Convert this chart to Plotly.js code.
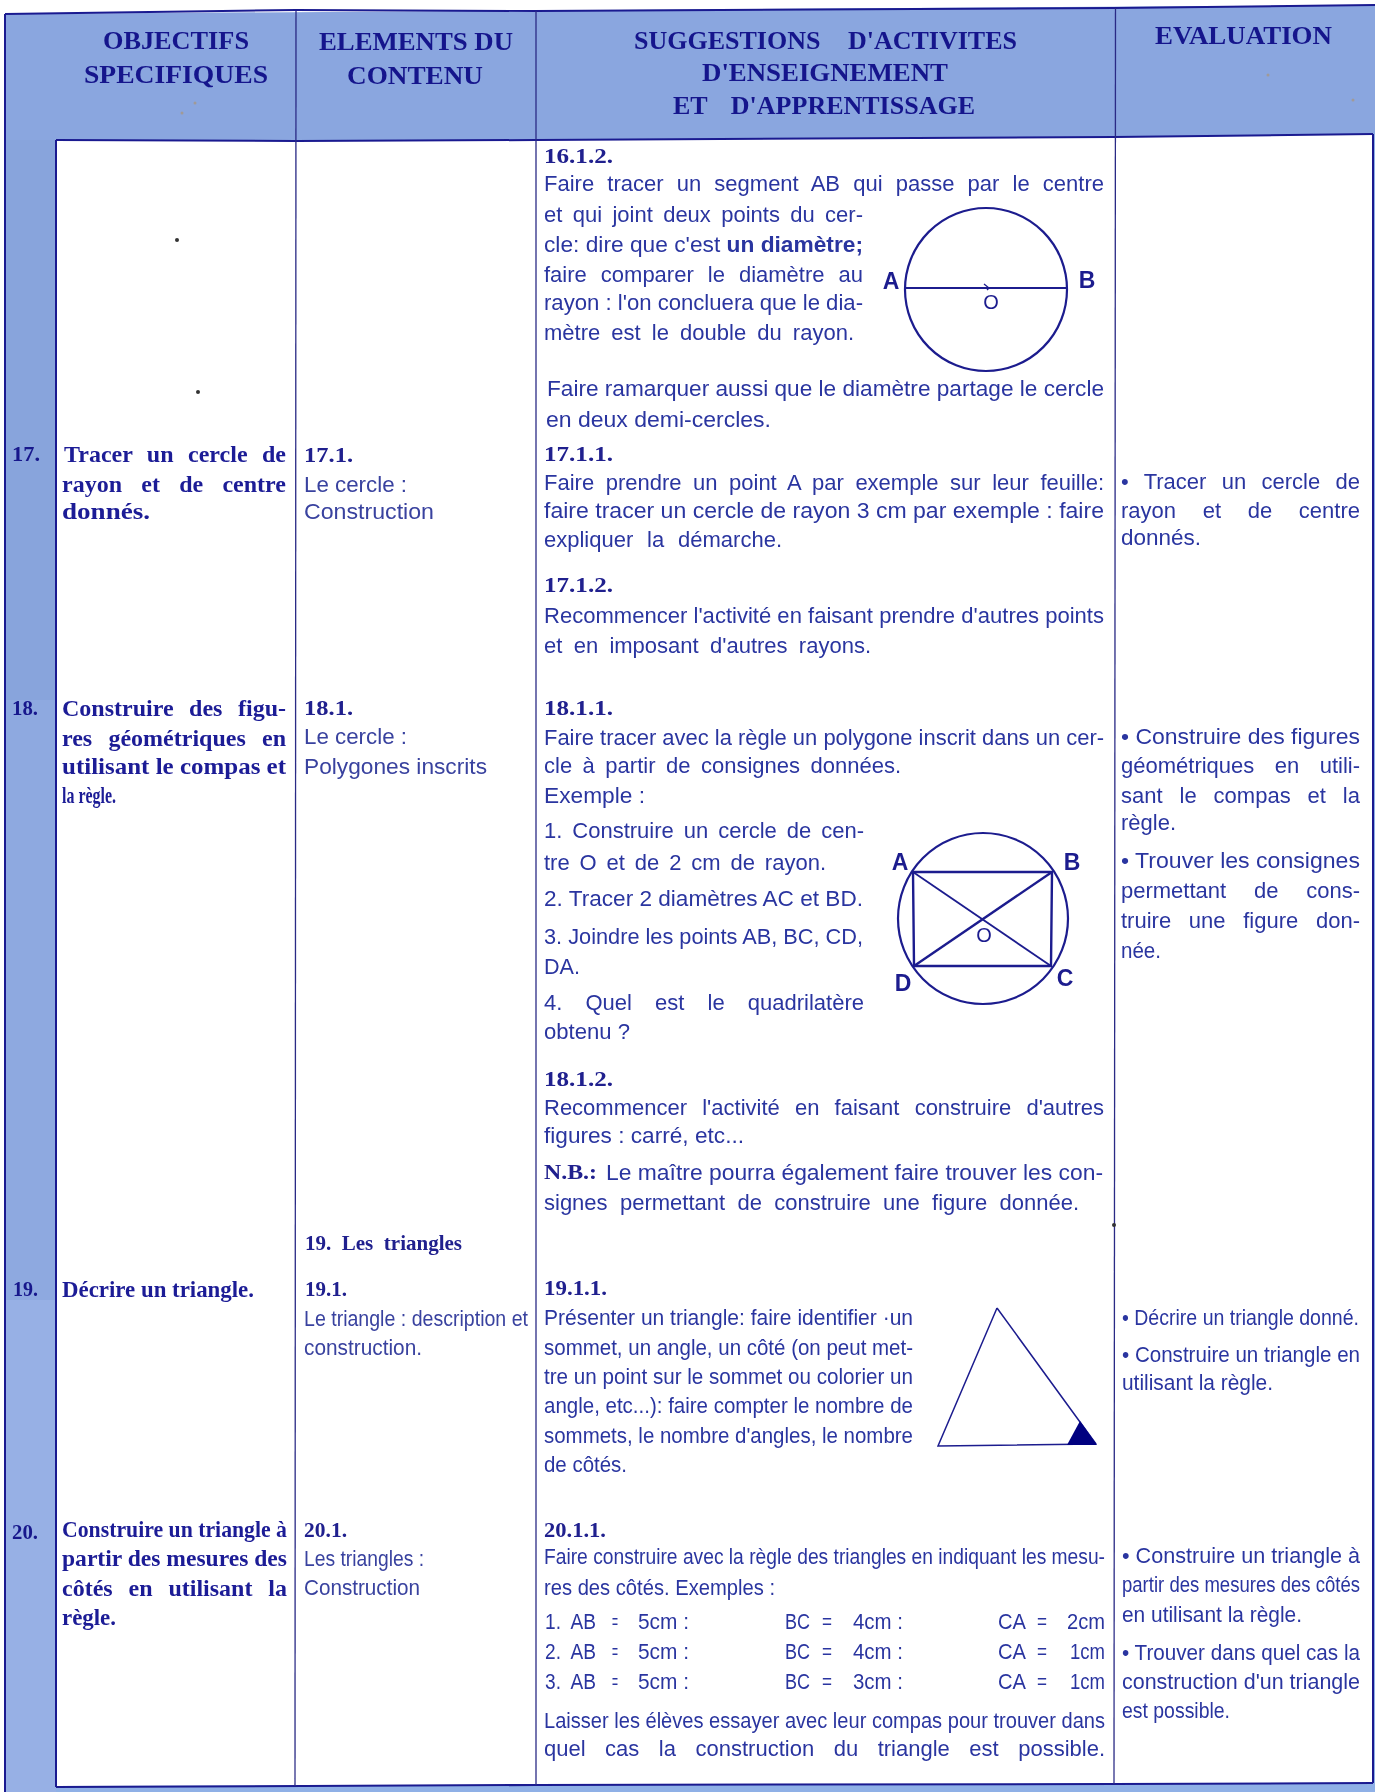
<!DOCTYPE html>
<html lang="fr">
<head>
<meta charset="utf-8">
<script src="https://cdn.plot.ly/plotly-3.0.1.min.js"></script>
<style>
html,body{margin:0;padding:0;background:#fff}
#chart{width:1375px;height:1792px;filter:blur(0.45px)}
</style>
</head>
<body>
<div id="chart"></div>
<script>
// ---- text rows: [left, middle y, right end, text]
const headerLines = [
  [103, 42, 249, "OBJECTIFS"],
  [84, 76, 268, "SPECIFIQUES"],
  [319, 43, 513, "ELEMENTS DU"],
  [347, 77, 483, "CONTENU"],
  [634, 42, 1017, "SUGGESTIONS D'ACTIVITES"],
  [702, 74, 948, "D'ENSEIGNEMENT"],
  [673, 107, 975, "ET D'APPRENTISSAGE"],
  [1155, 37, 1332, "EVALUATION"]
];
const objectiveNumbers = [
  [12, 456, 40, "17."], [12, 710, 38, "18."], [13, 1291, 38, "19."], [12, 1534, 38, "20."]
];
const objectiveLines = [
  [64, 456, 286, "Tracer un cercle de"],
  [62, 486, 286, "rayon et de centre"],
  [62, 513, 150, "donnés."],
  [62, 710, 286, "Construire des figu-"],
  [62, 740, 286, "res géométriques en"],
  [62, 768, 286, "utilisant le compas et"],
  [62, 797, 116, "la règle."],
  [62, 1291, 254, "Décrire un triangle."],
  [62, 1531, 287, "Construire un triangle à"],
  [62, 1560, 287, "partir des mesures des"],
  [62, 1590, 287, "côtés en utilisant la"],
  [62, 1619, 116, "règle."]
];
const sectionHeads = [
  [304, 457, 353, "17.1."], [304, 710, 353, "18.1."], [305, 1245, 462, "19. Les triangles"],
  [305, 1291, 347, "19.1."], [304, 1532, 347, "20.1."],
  [544, 158, 613, "16.1.2."], [544, 456, 613, "17.1.1."], [544, 587, 613, "17.1.2."],
  [544, 710, 613, "18.1.1."], [544, 1081, 613, "18.1.2."], [544, 1290, 607, "19.1.1."],
  [544, 1532, 606, "20.1.1."], [544, 1174, 597, "N.B.:"]
];
const contentLines = [
  [304, 486, 407, "Le cercle :"],
  [304, 513, 434, "Construction"],
  [304, 738, 407, "Le cercle :"],
  [304, 768, 487, "Polygones inscrits"],
  [304, 1320, 528, "Le triangle : description et"],
  [304, 1349, 422, "construction."],
  [304, 1560, 424, "Les triangles :"],
  [304, 1589, 420, "Construction"]
];
const activityLines = [
  [544, 185, 1104, "Faire tracer un segment AB qui passe par le centre"],
  [544, 216, 863, "et qui joint deux points du cer-"],
  [544, 246, 863, "cle: dire que c'est <b>un diamètre;</b>"],
  [544, 276, 863, "faire comparer le diamètre au"],
  [544, 304, 863, "rayon : l'on concluera que le dia-"],
  [544, 334, 854, "mètre est le double du rayon."],
  [547, 390, 1104, "Faire ramarquer aussi que le diamètre partage le cercle"],
  [546, 421, 771, "en deux demi-cercles."],
  [544, 484, 1104, "Faire prendre un point A par exemple sur leur feuille:"],
  [544, 512, 1104, "faire tracer un cercle de rayon 3 cm par exemple : faire"],
  [544, 541, 782, "expliquer la démarche."],
  [544, 617, 1104, "Recommencer l'activité en faisant prendre d'autres points"],
  [544, 647, 871, "et en imposant d'autres rayons."],
  [544, 739, 1104, "Faire tracer avec la règle un polygone inscrit dans un cer-"],
  [544, 767, 901, "cle à partir de consignes données."],
  [544, 797, 645, "Exemple :"],
  [544, 832, 864, "1. Construire un cercle de cen-"],
  [544, 864, 826, "tre O et de 2 cm de rayon."],
  [544, 900, 863, "2. Tracer 2 diamètres AC et BD."],
  [544, 938, 863, "3. Joindre les points AB, BC, CD,"],
  [544, 968, 580, "DA."],
  [544, 1004, 864, "4. Quel est le quadrilatère"],
  [544, 1033, 630, "obtenu ?"],
  [544, 1109, 1104, "Recommencer l'activité en faisant construire d'autres"],
  [544, 1137, 744, "figures : carré, etc..."],
  [606, 1174, 1103, "Le maître pourra également faire trouver les con-"],
  [544, 1204, 1079, "signes permettant de construire une figure donnée."],
  [544, 1319, 913, "Présenter un triangle: faire identifier ·un"],
  [544, 1349, 913, "sommet, un angle, un côté (on peut met-"],
  [544, 1378, 913, "tre un point sur le sommet ou colorier un"],
  [544, 1407, 913, "angle, etc...): faire compter le nombre de"],
  [544, 1437, 913, "sommets, le nombre d'angles, le nombre"],
  [544, 1466, 627, "de côtés."],
  [544, 1558, 1105, "Faire construire avec la règle des triangles en indiquant les mesu-"],
  [544, 1589, 775, "res des côtés. Exemples :"],
  [544, 1722, 1105, "Laisser les élèves essayer avec leur compas pour trouver dans"],
  [544, 1750, 1105, "quel cas la construction du triangle est possible."]
];
const measureCells = [
  [545, 1623, 596, "1.  AB"], [612, 1623, 618, "="], [638, 1623, 689, "5cm :"],
  [785, 1623, 810, "BC"], [822, 1623, 832, "="], [853, 1623, 903, "4cm :"],
  [998, 1623, 1026, "CA"], [1037, 1623, 1047, "="], [1067, 1623, 1105, "2cm"],
  [545, 1653, 596, "2.  AB"], [612, 1653, 618, "="], [638, 1653, 689, "5cm :"],
  [785, 1653, 810, "BC"], [822, 1653, 832, "="], [853, 1653, 903, "4cm :"],
  [998, 1653, 1026, "CA"], [1037, 1653, 1047, "="], [1070, 1653, 1105, "1cm"],
  [545, 1683, 596, "3.  AB"], [612, 1683, 618, "="], [638, 1683, 689, "5cm :"],
  [785, 1683, 810, "BC"], [822, 1683, 832, "="], [853, 1683, 903, "3cm :"],
  [998, 1683, 1026, "CA"], [1037, 1683, 1047, "="], [1070, 1683, 1105, "1cm"]
];
const evaluationLines = [
  [1121, 483, 1360, "• Tracer un cercle de"],
  [1121, 512, 1360, "rayon et de centre"],
  [1121, 539, 1201, "donnés."],
  [1121, 738, 1360, "• Construire des figures"],
  [1121, 767, 1360, "géométriques en utili-"],
  [1121, 797, 1360, "sant le compas et la"],
  [1121, 824, 1176, "règle."],
  [1121, 862, 1360, "• Trouver les consignes"],
  [1121, 892, 1360, "permettant de cons-"],
  [1121, 922, 1360, "truire une figure don-"],
  [1121, 952, 1161, "née."],
  [1122, 1319, 1359, "• Décrire un triangle donné."],
  [1122, 1356, 1360, "• Construire un triangle en"],
  [1122, 1384, 1273, "utilisant la règle."],
  [1122, 1557, 1360, "• Construire un triangle à"],
  [1122, 1586, 1360, "partir des mesures des côtés"],
  [1122, 1616, 1302, "en utilisant la règle."],
  [1122, 1654, 1360, "• Trouver dans quel cas la"],
  [1122, 1683, 1360, "construction d'un triangle"],
  [1122, 1712, 1230, "est possible."]
];
const figureLetters = [
  [891, 283, "A"], [1087, 282, "B"],
  [900, 864, "A"], [1072, 864, "B"], [1065, 980, "C"], [903, 985, "D"]
];
const figureCentres = [[991, 304, "O"], [984, 937, "O"]];

// ---- figures and table rules: [xs, ys]
const headerBand = [[5, 1375, 1375, 1114, 536, 296, 56, 5], [14, 5, 134, 137, 140, 141, 140, 140]];
const leftBands = [
  [[5, 56, 56, 5], [140, 140, 700, 700], "#88a4dc"],
  [[5, 56, 56, 5], [700, 700, 1300, 1300], "#8ea9e0"],
  [[5, 56, 56, 5], [1300, 1300, 1792, 1792], "#97b0e5"]
];
const bottomBand = [[56, 1375, 1375, 56], [1786, 1783, 1792, 1792]];
const rightBand = [[1373, 1375, 1375, 1373], [134, 134, 1792, 1792]];
const heavyRules = [
  [[5, 296, 536, 1114, 1375], [14, 10, 11, 8, 5]],
  [[56, 296, 536, 1114, 1373], [140, 141, 140, 137, 134]],
  [[56, 296, 536, 1114, 1373], [1787, 1786, 1785, 1784, 1783]],
  [[5, 5], [14, 1792]],
  [[56, 56], [140, 1787]],
  [[1373, 1373], [134, 1783]]
];
const columnRules = [
  [[296, 295], [11, 1786]],
  [[536, 536], [11, 1785]],
  [[1115.5, 1114], [8, 1784]]
];
const diameterSegment = [[905, 1067], [288, 288]];
const diameterTick = [[984, 989, 987], [284, 288, 290]];
const inscribedRect = [[913, 1052, 1051, 914, 913], [872, 872, 966, 966, 872]];
const inscribedDiagA = [[913, 1051], [872, 966]];
const inscribedDiagB = [[1052, 914], [872, 966]];
const triangleOutline = [[997, 1096, 938, 997], [1308, 1444, 1446, 1308]];
const triangleAngle = [[1080, 1097, 1067, 1080], [1421, 1445, 1445, 1421]];
const specksX = [177, 198, 1114];
const specksY = [240, 392, 1225];
const tanSpecksX = [182, 195, 1268, 1353];
const tanSpecksY = [113, 103, 75, 100];

const INK = "#1c1c8e", BODY = "#2a35a0", LIGHT = "#39429f", BAND = "#8aa6df";
const BODYFONT = '"Liberation Sans Narrow","Liberation Sans",sans-serif';
const SERIF = '"Liberation Serif",serif';

const traces = [];
const poly = (p, color) => traces.push({x:p[0], y:p[1], mode:"lines", fill:"toself", fillcolor:color, line:{width:0}, hoverinfo:"skip"});
const line = (p, w, c) => traces.push({x:p[0], y:p[1], mode:"lines", line:{width:w, color:c||INK}, hoverinfo:"skip"});

poly(headerBand, BAND);
leftBands.forEach(b => poly(b, b[2]));
poly(bottomBand, "#8fb0e6");
poly(rightBand, "#8fb0e6");
heavyRules.forEach(r => line(r, 2, "#1a1a90"));
columnRules.forEach(r => line(r, 1.3, "#2a2a85"));
line(diameterSegment, 2);
line(diameterTick, 1.3);
line(inscribedRect, 2.4);
line(inscribedDiagA, 1.8);
line(inscribedDiagB, 2.4);
line(triangleOutline, 1.5);
poly(triangleAngle, "#000080");
traces.push({x:specksX, y:specksY, mode:"markers", marker:{size:4, color:"#333"}, hoverinfo:"skip"});
traces.push({x:tanSpecksX, y:tanSpecksY, mode:"markers", marker:{size:3, color:"#a09a98"}, hoverinfo:"skip"});

const fitGroups = [];
function textTrace(rows, family, size, color, weight){
  fitGroups.push({index:traces.length, rows});
  traces.push({
    x:rows.map(r=>r[0]), y:rows.map(r=>r[1]), text:rows.map(r=>r[3]),
    mode:"text", textposition:"middle right", cliponaxis:false,
    textfont:{family, size, color, weight:weight||400}, hoverinfo:"skip"
  });
}
textTrace(headerLines, SERIF, 26, "#15158c", 700);
textTrace(objectiveNumbers, SERIF, 21, "#17178c", 700);
textTrace(objectiveLines, SERIF, 24, "#1c1c96", 700);
textTrace(sectionHeads, SERIF, 21, "#20208e", 700);
textTrace(contentLines, BODYFONT, 22, LIGHT);
textTrace(activityLines, BODYFONT, 22, BODY);
textTrace(measureCells, BODYFONT, 22, BODY);
textTrace(evaluationLines, BODYFONT, 22, BODY);
traces.push({x:figureLetters.map(r=>r[0]), y:figureLetters.map(r=>r[1]), text:figureLetters.map(r=>r[2]),
  mode:"text", textposition:"middle center", textfont:{family:'"Liberation Sans",sans-serif', size:23, color:INK, weight:700}, hoverinfo:"skip"});
traces.push({x:figureCentres.map(r=>r[0]), y:figureCentres.map(r=>r[1]), text:figureCentres.map(r=>r[2]),
  mode:"text", textposition:"middle center", textfont:{family:'"Liberation Sans",sans-serif', size:20, color:INK}, hoverinfo:"skip"});

const layout = {
  width:1375, height:1792, autosize:false, showlegend:false,
  margin:{l:0,r:0,t:0,b:0,pad:0},
  paper_bgcolor:"#fff", plot_bgcolor:"#fff",
  xaxis:{range:[0,1375], visible:false, fixedrange:true},
  yaxis:{range:[1792,0], visible:false, fixedrange:true},
  shapes:[
    {type:"circle", xref:"x", yref:"y", x0:905, x1:1067, y0:208, y1:371, line:{color:INK, width:2.2}},
    {type:"circle", xref:"x", yref:"y", x0:898, x1:1068, y0:833, y1:1004, line:{color:INK, width:2.2}}
  ]
};

const gd = document.getElementById("chart");
Plotly.newPlot(gd, traces, layout, {staticPlot:true, displayModeBar:false}).then(() => {
  const layers = gd.querySelectorAll(".scatterlayer .trace");
  fitGroups.forEach(g => {
    const nodes = layers[g.index].querySelectorAll(".textpoint text");
    nodes.forEach((t, i) => {
      const row = g.rows[i];
      if (!row) return;
      const target = row[2] - row[0];
      const len = t.getComputedTextLength();
      const spaces = (t.textContent.match(/ /g) || []).length;
      if (target / len > 1.05 && spaces > 0) {
        t.style.wordSpacing = ((target - len) / spaces) + "px";
      } else {
        t.setAttribute("textLength", target);
        t.setAttribute("lengthAdjust", "spacingAndGlyphs");
      }
    });
  });
});
</script>
</body>
</html>
